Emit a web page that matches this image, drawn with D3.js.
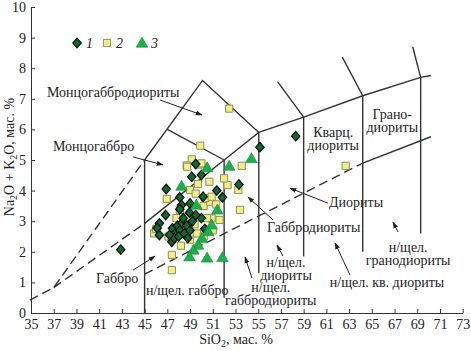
<!DOCTYPE html>
<html>
<head>
<meta charset="utf-8">
<script src="https://cdn.jsdelivr.net/npm/d3@7/dist/d3.min.js"></script>
<style>
  body { margin: 0; background: #fff; }
  svg text { font-family: "Liberation Serif", "Times New Roman", serif; fill: #222; }
</style>
</head>
<body>
<div id="tas"></div>
<script>
// samples: [SiO2, Na2O+K2O]
let group1 = [
    [42.9, 2.07], [49.5, 4.87], [49.15, 4.45], [50.0, 4.51], [46.9, 4.05], [48.1, 3.78],
    [50.15, 3.8], [51.35, 4.0], [51.85, 3.78], [55.15, 5.42], [58.3, 5.78], [53.3, 4.2],
    [49.0, 3.58], [48.25, 3.53], [46.85, 3.2], [48.1, 3.39], [48.95, 3.28], [46.3, 2.93],
    [46.1, 2.78], [46.3, 2.55], [47.45, 2.77], [47.4, 2.33], [47.7, 2.6], [47.9, 2.85],
    [48.1, 2.7], [48.3, 2.95], [48.5, 2.6], [47.6, 2.45], [48.0, 2.5], [48.7, 2.85],
    [49.0, 2.7], [49.2, 3.0], [48.4, 3.1], [50.0, 3.1], [50.3, 2.75], [49.5, 3.2],
    [47.2, 2.55], [48.8, 2.45]
];
let group2 = [
    [49.9, 5.47], [52.45, 6.68], [49.15, 5.02], [48.7, 4.82], [49.75, 4.85], [48.75, 4.78],
    [50.0, 4.89], [53.55, 4.81], [62.7, 4.81], [50.7, 4.29], [49.7, 4.22], [49.0, 4.02],
    [52.3, 4.18], [53.25, 4.02], [53.4, 3.37], [46.95, 3.73], [48.1, 3.37], [45.85, 2.6],
    [46.0, 2.75], [47.4, 1.9], [47.4, 1.4], [48.55, 2.71], [49.4, 2.9], [50.2, 3.5],
    [50.75, 3.64], [51.6, 3.04], [50.9, 3.09], [49.6, 2.6], [48.85, 3.15], [50.3, 3.75],
    [49.5, 3.9], [50.9, 3.8], [51.3, 3.55], [52.0, 4.4], [47.8, 3.1], [49.0, 2.4],
    [50.2, 2.5], [48.2, 2.2], [47.1, 2.5], [50.5, 3.1], [51.0, 2.7], [48.3, 2.85]
];
let group3 = [
    [50.5, 4.75], [52.45, 4.8], [54.4, 5.05], [48.25, 4.15], [49.55, 3.53], [51.4, 3.37],
    [50.9, 2.88], [50.6, 2.66], [50.05, 2.44], [49.7, 2.22], [49.3, 2.06], [48.95, 1.84],
    [50.5, 1.8], [51.85, 1.82]
];

let xTicks = d3.range(35, 74, 2);
let yTicks = d3.range(0, 11, 1);

// field boundaries
let solidLines = [
    [[45, 0], [45, 5]],
    [[45, 5], [50.1, 7.6], [55.05, 5.9]],
    [[47, 6], [52, 5]],
    [[45, 2.93], [52, 5]],
    [[52, 0.5], [52, 5]],
    [[52, 5], [55.05, 5.9], [59, 6.4], [64.2, 7.1], [69.3, 7.7], [70.2, 7.76]],
    [[55.05, 1.3], [55.05, 5.9]],
    [[59, 1.85], [59, 6.4]],
    [[64.2, 2.0], [64.2, 7.1]],
    [[69.3, 2.6], [69.3, 7.7]],
    [[59, 6.4], [56.7, 7.56]],
    [[64.2, 7.1], [62.4, 8.36]],
    [[69.3, 7.7], [68.6, 8.7]],
    [[64.2, 4.9], [70.2, 5.76]]
];
let dashedLines = [
    [[34.9, 0.42], [37, 0.83], [45, 5]],
    [[37, 0.83], [45, 2.93]],
    [[45, 1.27], [64.2, 4.9]]
];

// field names: [lines, SiO2, alkali of first baseline, anchor]
let fieldLabels = [
    [['Монцогаббродиориты'], 36.4, 7.06, 'start'],
    [['Монцогаббро'], 36.93, 5.29, 'start'],
    [['Кварц.', 'диориты'], 61.6, 5.75, 'middle'],
    [['Грано-', 'диориты'], 66.8, 6.34, 'middle'],
    [['Диориты'], 61.23, 3.46, 'start'],
    [['Габбродиориты'], 55.77, 2.65, 'start'],
    [['н/щел.', 'диориты'], 57.45, 1.5, 'middle'],
    [['н/щел.', 'габбродиориты'], 56.1, 0.7, 'middle'],
    [['н/щел. кв. диориты'], 61.3, 0.85, 'start'],
    [['н/щел.', 'гранодиориты'], 68.2, 2.0, 'middle'],
    [['Габбро'], 40.72, 0.98, 'start'],
    [['н/щел. габбро'], 45.12, 0.59, 'start']
];
let arrows = [
    [[46.36, 6.96], [50.05, 6.47]],
    [[43.98, 5.1], [46.62, 4.84]],
    [[61.14, 3.59], [57.8, 4.08]],
    [[56.3, 3.04], [54.1, 3.79]],
    [[57.18, 1.86], [56.66, 2.22]],
    [[54.45, 1.14], [53.84, 1.83]],
    [[63.08, 1.24], [61.76, 2.29]],
    [[67.3, 2.65], [66.87, 2.97]],
    [[43.98, 1.4], [45.92, 1.86]]
];

let width = 471, height = 351;

let svg = d3.select('#tas').append('svg')
    .attr('width', width)
    .attr('height', height);

let x = d3.scaleLinear().domain([35, 73]).range([31, 462.7]);
let y = d3.scaleLinear().domain([0, 10]).range([313, 7]);

svg.append('defs').append('marker')
    .attr('id', 'head')
    .attr('viewBox', '0 0 10 10')
    .attr('refX', 9).attr('refY', 5)
    .attr('markerWidth', 7).attr('markerHeight', 7)
    .attr('markerUnits', 'userSpaceOnUse')
    .attr('orient', 'auto')
    .append('path')
    .attr('d', 'M0,1.5L10,5L0,8.5Z')
    .attr('fill', '#222');

// axes
let xAxis = d3.axisBottom(x).tickValues(xTicks).tickSizeInner(-4).tickSizeOuter(0).tickPadding(6);
let yAxis = d3.axisLeft(y).tickValues(yTicks).tickSizeInner(-4).tickSizeOuter(0).tickPadding(5);

let xg = svg.append('g').attr('transform', `translate(0, ${y(0)})`).call(xAxis);
let yg = svg.append('g').attr('transform', `translate(${x(35)}, 0)`).call(yAxis);
[xg, yg].forEach(g => {
    g.selectAll('text').style('font-family', '"Liberation Serif", serif').style('font-size', '14px').attr('fill', '#222');
    g.selectAll('line, path').attr('stroke', '#333');
});

let line = d3.line().x(d => x(d[0])).y(d => y(d[1]));

let fields_g = svg.append('g').attr('class', 'fields');
fields_g.selectAll('.solid')
    .data(solidLines).join('path')
    .attr('d', line)
    .attr('fill', 'none')
    .attr('stroke', '#333')
    .attr('stroke-width', 1.4);
fields_g.selectAll('.dashed')
    .data(dashedLines).join('path')
    .attr('class', 'dashed')
    .attr('d', line)
    .attr('fill', 'none')
    .attr('stroke', '#333')
    .attr('stroke-width', 1.4)
    .attr('stroke-dasharray', '9,5');

let arrow_g = svg.append('g').attr('class', 'arrows');
arrow_g.selectAll('line')
    .data(arrows).join('line')
    .attr('x1', d => x(d[0][0])).attr('y1', d => y(d[0][1]))
    .attr('x2', d => x(d[1][0])).attr('y2', d => y(d[1][1]))
    .attr('stroke', '#222')
    .attr('stroke-width', 1)
    .attr('marker-end', 'url(#head)');

let label_g = svg.append('g').attr('class', 'labels');
fieldLabels.forEach(function (d) {
    let t = label_g.append('text')
        .attr('x', x(d[1]))
        .attr('y', y(d[2]))
        .attr('text-anchor', d[3])
        .style('font-size', '14px');
    d[0].forEach(function (s, i) {
        t.append('tspan')
            .attr('x', x(d[1]))
            .attr('dy', i === 0 ? 0 : 13)
            .text(s);
    });
});

// markers
let diamondPath = 'M0,-4.8L4.2,0L0,4.8L-4.2,0Z';
let squarePath = 'M-3.6,-3.6H3.6V3.6H-3.6Z';
let trianglePath = 'M0,-5.8L5.8,4.2H-5.8Z';

let point_g = svg.append('g').attr('class', 'points');
function drawGroup(data, path, fill, stroke, sw) {
    point_g.append('g').selectAll('path')
        .data(data).join('path')
        .attr('transform', d => `translate(${x(d[0])}, ${y(d[1])})`)
        .attr('d', path)
        .attr('fill', fill)
        .attr('stroke', stroke)
        .attr('stroke-width', sw);
}
drawGroup(group2, squarePath, '#eeee8a', '#8f8f55', 1);
drawGroup(group1, diamondPath, '#0d6b2e', '#0a0a0a', 1.2);
drawGroup(group3, trianglePath, '#1fae4c', '#138a38', 0.6);

// legend
let legend = [
    {path: diamondPath, fill: '#0d6b2e', stroke: '#0a0a0a', sw: 1.2, label: '1', x: 77},
    {path: squarePath, fill: '#eeee8a', stroke: '#8f8f55', sw: 1, label: '2', x: 107},
    {path: trianglePath, fill: '#1fae4c', stroke: '#138a38', sw: 0.6, label: '3', x: 142}
];
let legend_g = svg.append('g').attr('class', 'legend');
legend.forEach(function (d) {
    legend_g.append('path')
        .attr('transform', `translate(${d.x}, 43)`)
        .attr('d', d.path)
        .attr('fill', d.fill)
        .attr('stroke', d.stroke)
        .attr('stroke-width', d.sw);
    legend_g.append('text')
        .attr('x', d.x + 9).attr('y', 48)
        .style('font-size', '14px')
        .style('font-style', 'italic')
        .text(d.label);
});

// axis titles
let xt = svg.append('text')
    .attr('x', 236).attr('y', 344)
    .attr('text-anchor', 'middle')
    .style('font-size', '14px');
xt.append('tspan').text('SiO');
xt.append('tspan').attr('dy', 2.5).style('font-size', '10px').text('2');
xt.append('tspan').attr('dy', -2.5).text(', мас. %');

let yt = svg.append('text')
    .attr('transform', 'translate(14, 157) rotate(-90)')
    .attr('text-anchor', 'middle')
    .style('font-size', '14px');
yt.append('tspan').text('Na');
yt.append('tspan').attr('dy', 2.5).style('font-size', '10px').text('2');
yt.append('tspan').attr('dy', -2.5).text('O + K');
yt.append('tspan').attr('dy', 2.5).style('font-size', '10px').text('2');
yt.append('tspan').attr('dy', -2.5).text('O, мас. %');
</script>
</body>
</html>
